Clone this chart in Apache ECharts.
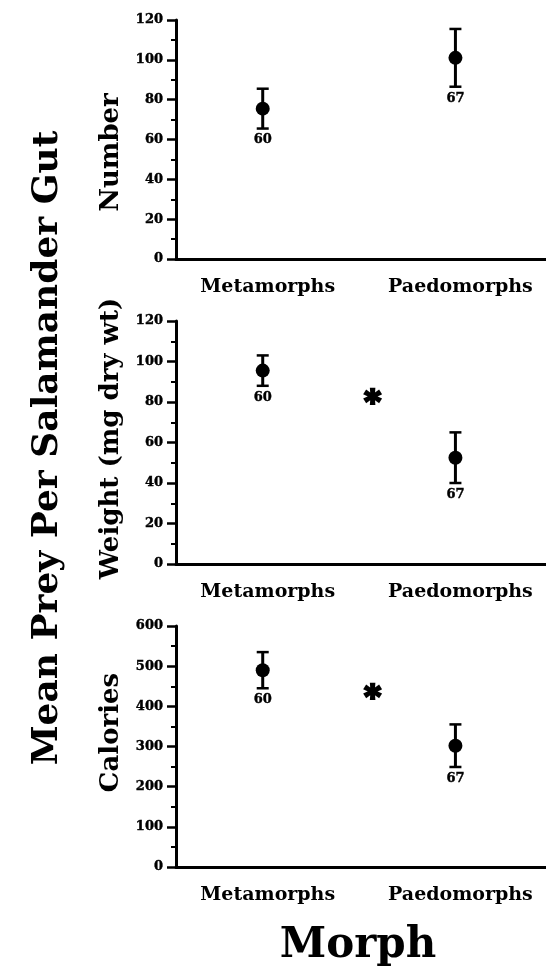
<!DOCTYPE html>
<html>
<head>
<meta charset="utf-8">
<style>
html, body { margin: 0; padding: 0; background: #fff; }
#chart { width: 546px; height: 970px; }
</style>
<script src="https://cdn.jsdelivr.net/npm/echarts@6/dist/echarts.min.js"></script>
</head>
<body>
<div id="chart"></div>
<script>
var categories = ['Metamorphs', 'Paedomorphs'];
var sampleSizes = [60, 67];

var numberMean = [75.5, 101];
var numberErr = [10, 14.5];
var weightMean = [95.5, 52.5];
var weightErr = [7.5, 12.5];
var calorieMean = [490, 302];
var calorieErr = [45, 53];

// significance asterisk: [x between the morphs, y value]
var weightStar = [1.57, 82];
var calorieStar = [1.57, 433];

var FONT = '"DejaVu Serif", "Liberation Serif", serif';

var panels = [
    { name: 'Number', namePad: [0, 26, 0, 0], mean: numberMean, err: numberErr, max: 120, interval: 20, star: null, top: 20, height: 239 },
    { name: 'Weight (mg dry wt)', namePad: [0, 0, 0, 8], mean: weightMean, err: weightErr, max: 120, interval: 20, star: weightStar, top: 321, height: 243 },
    { name: 'Calories', namePad: [0, 0, 0, 28], mean: calorieMean, err: calorieErr, max: 600, interval: 100, star: calorieStar, top: 626, height: 241 }
];

function renderErrorBar(params, api) {
    var x = api.value(0);
    var lo = api.coord([x, api.value(1)]);
    var hi = api.coord([x, api.value(2)]);
    var cap = 6;
    return {
        type: 'group',
        children: [
            { type: 'line', shape: { x1: lo[0], y1: lo[1], x2: hi[0], y2: hi[1] }, style: { stroke: '#000', lineWidth: 3 } },
            { type: 'line', shape: { x1: lo[0] - cap, y1: lo[1], x2: lo[0] + cap, y2: lo[1] }, style: { stroke: '#000', lineWidth: 2.5 } },
            { type: 'line', shape: { x1: hi[0] - cap, y1: hi[1], x2: hi[0] + cap, y2: hi[1] }, style: { stroke: '#000', lineWidth: 2.5 } },
            {
                type: 'text', x: lo[0], y: lo[1] + 5,
                style: { text: String(api.value(3)), fill: '#000', stroke: '#000', lineWidth: 0.4, fontFamily: FONT, fontWeight: 'bold', fontSize: 13, align: 'center', verticalAlign: 'top' }
            }
        ]
    };
}

function renderStar(params, api) {
    var p = api.coord([api.value(0), api.value(1)]);
    return {
        type: 'text', x: p[0], y: p[1] + 6,
        style: { text: '*', fill: '#000', stroke: '#000', lineWidth: 2.5, fontFamily: FONT, fontWeight: 'bold', fontSize: 32, align: 'center', verticalAlign: 'middle' }
    };
}

var grids = [], xAxes = [], yAxes = [], series = [];

panels.forEach(function (p, i) {
    grids.push({ left: 176, right: 0, top: p.top, height: p.height });

    var xAxis = {
        gridIndex: i,
        type: 'value',
        min: 0.55,
        max: 2.47,
        axisLine: { show: true, lineStyle: { color: '#000', width: 3 } },
        axisTick: { show: false },
        splitLine: { show: false },
        axisLabel: {
            customValues: [1, 2],
            formatter: function (v) { return categories[Math.round(v) - 1]; },
            color: '#000', fontFamily: FONT, fontWeight: 'bold', fontSize: 19, margin: 19,
            padding: [0, 0, 0, 10]
        }
    };
    if (i === panels.length - 1) {
        xAxis.name = 'Morph';
        xAxis.nameLocation = 'middle';
        xAxis.nameGap = 58;
        xAxis.nameTextStyle = { color: '#000', fontFamily: FONT, fontWeight: 'bold', fontSize: 42, padding: [0, 6, 0, 0] };
    }
    xAxes.push(xAxis);

    yAxes.push({
        gridIndex: i,
        type: 'value',
        min: 0,
        max: p.max,
        interval: p.interval,
        name: p.name,
        nameLocation: 'middle',
        nameGap: 52,
        nameTextStyle: { color: '#000', fontFamily: FONT, fontWeight: 'bold', fontSize: 26, padding: p.namePad },
        axisLine: { show: true, lineStyle: { color: '#000', width: 3 } },
        axisTick: { show: true, length: 9, lineStyle: { color: '#000', width: 2.5 } },
        minorTick: { show: true, splitNumber: 2, length: 5, lineStyle: { color: '#000', width: 2 } },
        splitLine: { show: false },
        axisLabel: {
            color: '#000', fontFamily: FONT, fontWeight: 'bold', fontSize: 13, margin: 13,
            textBorderColor: '#000', textBorderWidth: 0.4
        }
    });

    series.push({
        type: 'custom',
        xAxisIndex: i,
        yAxisIndex: i,
        renderItem: renderErrorBar,
        data: categories.map(function (c, j) {
            return [j + 1, p.mean[j] - p.err[j], p.mean[j] + p.err[j], sampleSizes[j]];
        }),
        z: 2
    });
    series.push({
        type: 'scatter',
        xAxisIndex: i,
        yAxisIndex: i,
        symbol: 'circle',
        symbolSize: 14,
        itemStyle: { color: '#000', opacity: 1 },
        data: categories.map(function (c, j) { return [j + 1, p.mean[j]]; }),
        z: 3
    });
    if (p.star) {
        series.push({
            type: 'custom',
            xAxisIndex: i,
            yAxisIndex: i,
            renderItem: renderStar,
            data: [p.star]
        });
    }
});

var option = {
    backgroundColor: '#fff',
    animation: false,
    grid: grids,
    xAxis: xAxes,
    yAxis: yAxes,
    series: series,
    graphic: [{
        type: 'text',
        x: 48,
        y: 448,
        rotation: Math.PI / 2,
        style: {
            text: 'Mean Prey Per Salamander Gut',
            fill: '#000', fontFamily: FONT, fontWeight: 'bold', fontSize: 36,
            align: 'center', verticalAlign: 'middle'
        }
    }]
};

var myChart = echarts.init(document.getElementById('chart'));
myChart.setOption(option);
</script>
</body>
</html>
